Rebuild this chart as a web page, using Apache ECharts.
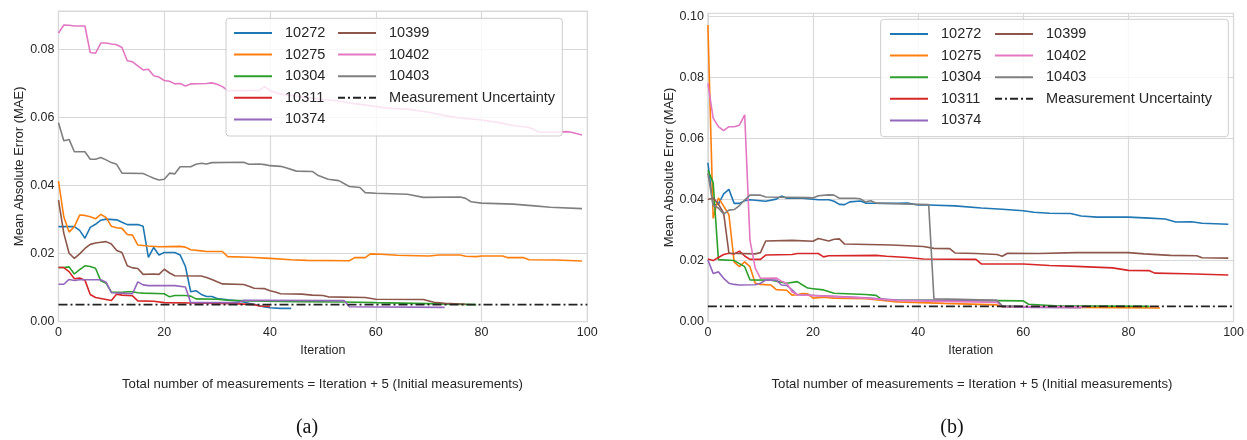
<!DOCTYPE html>
<html>
<head>
<meta charset="utf-8">
<script src="https://cdn.jsdelivr.net/npm/echarts@6/dist/echarts.min.js"></script>
<style>
  html, body { margin: 0; padding: 0; background: #fff; }
  #chart { width: 1247px; height: 440px; }
</style>
</head>
<body>
<div id="chart"></div>
<script>
// 两个面板：(a) / (b)，每条曲线按 [迭代次数, MAE] 记录拐点
const seriesNames = ['10272', '10275', '10304', '10311', '10374', '10399', '10402', '10403'];
const uncertaintyName = 'Measurement Uncertainty';
const uncertainty = 0.005;

const xTicks = [0, 20, 40, 60, 80, 100];
const yTicksA = [0, 0.02, 0.04, 0.06, 0.08];
const yTicksB = [0, 0.02, 0.04, 0.06, 0.08, 0.10];
const yMaxA = 0.0912;
const yMaxB = 0.1009;

const captionText = 'Total number of measurements = Iteration + 5 (Initial measurements)';
const panelLabels = ['(a)', '(b)'];

// ---- panel (a)
const a10272 = [[0,0.0279],[3,0.0279],[4,0.0268],[5,0.0245],[6,0.0277],[7,0.0286],[8,0.0298],[9,0.0301],[11,0.0299],[12,0.0292],[13,0.0285],[15,0.0285],[16,0.0280],[17,0.0189],[18,0.0218],[19,0.0196],[20,0.0203],[22,0.0203],[23,0.0196],[24,0.0162],[25,0.0088],[26,0.0091],[27,0.0080],[28,0.0074],[29,0.0074],[30,0.0068],[32,0.0064],[34,0.0061],[35,0.0058],[36,0.0054],[37,0.0051],[38,0.0047],[39,0.0043],[40,0.0041],[42,0.0039],[44,0.0039]];
const a10275 = [[0,0.0413],[1,0.0308],[2,0.0263],[3,0.0279],[4,0.0313],[5,0.0312],[6,0.0308],[7,0.0302],[8,0.0315],[9,0.0306],[10,0.0280],[11,0.0276],[12,0.0274],[13,0.0256],[14,0.0254],[15,0.0225],[17,0.0222],[19,0.0220],[23,0.0221],[24,0.0219],[25,0.0211],[27,0.0208],[28,0.0206],[31,0.0206],[32,0.0191],[36,0.0189],[40,0.0186],[44,0.0182],[47,0.0180],[55,0.0179],[56,0.0188],[58,0.0188],[59,0.0199],[61,0.0198],[64,0.0195],[70,0.0193],[72,0.0196],[76,0.0196],[77,0.0192],[79,0.0191],[80,0.0193],[84,0.0193],[85,0.0188],[88,0.0188],[89,0.0182],[94,0.0181],[99,0.0178]];
const a10304 = [[0,0.0159],[1,0.0159],[2,0.0161],[3,0.0140],[4,0.0153],[5,0.0164],[6,0.0162],[7,0.0157],[8,0.0120],[9,0.0113],[10,0.0087],[12,0.0086],[13,0.0088],[14,0.0088],[15,0.0085],[16,0.0084],[20,0.0082],[21,0.0073],[22,0.0077],[24,0.0077],[25,0.0075],[26,0.0067],[30,0.0066],[32,0.0063],[36,0.0061],[45,0.0059],[54,0.0058],[60,0.0056],[70,0.0053],[79,0.0050]];
const a10311 = [[0,0.0159],[1,0.0159],[2,0.0147],[3,0.0126],[4,0.0128],[5,0.0122],[6,0.0080],[7,0.0071],[8,0.0068],[9,0.0065],[10,0.0062],[11,0.0081],[12,0.0078],[14,0.0076],[15,0.0061],[18,0.0060],[20,0.0056],[25,0.0055],[33,0.0053],[37,0.0050],[38,0.0046],[40,0.0045]];
const a10374 = [[0,0.0110],[1,0.0110],[2,0.0124],[3,0.0121],[4,0.0123],[8,0.0123],[9,0.0116],[10,0.0085],[12,0.0084],[14,0.0082],[15,0.0117],[16,0.0108],[17,0.0106],[22,0.0106],[24,0.0102],[25,0.0056],[34,0.0056],[35,0.0063],[54,0.0062],[55,0.0044],[73,0.0042]];
const a10399 = [[0,0.0357],[1,0.0260],[2,0.0201],[3,0.0186],[4,0.0199],[5,0.0215],[6,0.0227],[7,0.0231],[8,0.0233],[9,0.0235],[10,0.0228],[11,0.0209],[12,0.0203],[13,0.0164],[14,0.0158],[15,0.0156],[16,0.0139],[18,0.0140],[19,0.0139],[20,0.0154],[21,0.0143],[22,0.0135],[27,0.0134],[28,0.0130],[29,0.0124],[30,0.0117],[31,0.0111],[35,0.0109],[36,0.0104],[37,0.0098],[39,0.0097],[40,0.0091],[41,0.0087],[42,0.0082],[46,0.0081],[48,0.0078],[50,0.0077],[51,0.0073],[58,0.0071],[60,0.0066],[69,0.0065],[71,0.0057],[73,0.0054],[77,0.0051]];
const a10402 = [[0,0.0847],[1,0.0871],[2,0.0870],[3,0.0868],[5,0.0868],[6,0.0790],[7,0.0788],[8,0.0818],[9,0.0818],[10,0.0815],[11,0.0813],[12,0.0805],[13,0.0766],[14,0.0763],[15,0.0751],[16,0.0739],[17,0.0741],[18,0.0722],[19,0.0718],[20,0.0708],[21,0.0706],[22,0.0698],[23,0.0699],[24,0.0692],[25,0.0698],[28,0.0699],[29,0.0701],[30,0.0697],[31,0.0690],[32,0.0678],[38,0.0679],[39,0.0690],[40,0.0678],[42,0.0668],[46,0.0660],[50,0.0652],[53,0.0648],[56,0.0640],[60,0.0632],[62,0.0627],[66,0.0624],[70,0.0615],[73,0.0605],[76,0.0598],[80,0.0592],[83,0.0585],[86,0.0576],[89,0.0570],[91,0.0556],[94,0.0556],[96,0.0558],[97,0.0556],[99,0.0548]];
const a10403 = [[0,0.0584],[1,0.0531],[2,0.0535],[3,0.0499],[5,0.0499],[6,0.0477],[7,0.0477],[8,0.0482],[9,0.0475],[10,0.0467],[11,0.0462],[12,0.0436],[16,0.0435],[17,0.0428],[18,0.0421],[19,0.0416],[20,0.0418],[21,0.0436],[22,0.0434],[23,0.0455],[25,0.0455],[26,0.0462],[27,0.0465],[28,0.0463],[29,0.0467],[35,0.0468],[36,0.0462],[38,0.0463],[39,0.0461],[40,0.0458],[42,0.0456],[43,0.0452],[45,0.0442],[48,0.0441],[49,0.0430],[51,0.0418],[53,0.0414],[55,0.0397],[57,0.0394],[58,0.0379],[60,0.0377],[66,0.0374],[69,0.0365],[76,0.0366],[77,0.0362],[78,0.0352],[80,0.0348],[86,0.0345],[90,0.0340],[93,0.0336],[99,0.0332]];

// ---- panel (b)
const b10272 = [[0,0.0520],[1,0.0380],[2,0.0385],[3,0.0418],[4,0.0433],[5,0.0387],[6,0.0387],[7,0.0396],[8,0.0399],[11,0.0394],[13,0.0401],[14,0.0411],[15,0.0404],[17,0.0405],[18,0.0404],[21,0.0399],[23,0.0399],[24,0.0394],[25,0.0384],[26,0.0383],[27,0.0392],[29,0.0395],[30,0.0388],[36,0.0387],[38,0.0388],[40,0.0382],[42,0.0382],[47,0.0379],[52,0.0372],[56,0.0368],[60,0.0363],[62,0.0358],[65,0.0355],[69,0.0354],[71,0.0346],[74,0.0342],[80,0.0342],[84,0.0339],[87,0.0336],[89,0.0326],[92,0.0327],[94,0.0322],[99,0.0319]];
const b10275 = [[0,0.0971],[1,0.0338],[2,0.0405],[3,0.0378],[4,0.0350],[5,0.0195],[6,0.0180],[7,0.0196],[8,0.0180],[9,0.0126],[10,0.0122],[12,0.0120],[13,0.0105],[15,0.0103],[16,0.0087],[17,0.0088],[18,0.0092],[19,0.0091],[20,0.0077],[22,0.0080],[24,0.0077],[30,0.0075],[36,0.0065],[45,0.0060],[55,0.0055],[56,0.0049],[70,0.0047],[86,0.0045]];
const b10304 = [[0,0.0495],[1,0.0455],[2,0.0203],[5,0.0200],[6,0.0190],[7,0.0180],[8,0.0137],[12,0.0136],[15,0.0126],[17,0.0131],[18,0.0120],[19,0.0110],[20,0.0108],[22,0.0104],[24,0.0093],[30,0.0089],[32,0.0086],[33,0.0074],[34,0.0071],[55,0.0069],[60,0.0068],[61,0.0057],[66,0.0052],[84,0.0050]];
const b10311 = [[0,0.0205],[1,0.0200],[2,0.0210],[3,0.0220],[4,0.0224],[5,0.0222],[6,0.0231],[7,0.0215],[8,0.0204],[10,0.0204],[11,0.0218],[16,0.0220],[17,0.0223],[21,0.0223],[22,0.0212],[23,0.0216],[32,0.0217],[34,0.0214],[38,0.0210],[41,0.0205],[51,0.0204],[52,0.0189],[60,0.0189],[65,0.0184],[70,0.0181],[77,0.0176],[80,0.0168],[84,0.0167],[85,0.0159],[91,0.0157],[99,0.0153]];
const b10374 = [[0,0.0202],[1,0.0158],[2,0.0163],[3,0.0142],[4,0.0126],[5,0.0122],[6,0.0120],[9,0.0121],[10,0.0126],[11,0.0136],[13,0.0136],[14,0.0120],[15,0.0119],[16,0.0104],[17,0.0088],[24,0.0083],[30,0.0078],[36,0.0071],[55,0.0069],[56,0.0049],[62,0.0047],[71,0.0046]];
const b10399 = [[0,0.0400],[1,0.0405],[2,0.0385],[3,0.0355],[4,0.0224],[9,0.0222],[10,0.0226],[11,0.0264],[16,0.0266],[20,0.0263],[21,0.0272],[22,0.0268],[23,0.0264],[24,0.0270],[25,0.0271],[26,0.0254],[35,0.0251],[41,0.0246],[43,0.0240],[46,0.0239],[47,0.0225],[51,0.0223],[55,0.0220],[56,0.0214],[57,0.0224],[63,0.0223],[70,0.0226],[80,0.0226],[83,0.0222],[88,0.0217],[93,0.0216],[94,0.0209],[99,0.0208]];
const b10402 = [[0,0.0780],[1,0.0666],[2,0.0638],[3,0.0625],[4,0.0638],[5,0.0638],[6,0.0643],[7,0.0677],[8,0.0267],[9,0.0175],[10,0.0142],[13,0.0143],[14,0.0132],[15,0.0126],[16,0.0098],[17,0.0088],[24,0.0082],[30,0.0077],[36,0.0069],[50,0.0065],[55,0.0063],[56,0.0050],[72,0.0048]];
const b10403 = [[0,0.0486],[1,0.0380],[2,0.0372],[3,0.0352],[4,0.0365],[5,0.0367],[6,0.0380],[7,0.0398],[8,0.0414],[10,0.0414],[11,0.0408],[19,0.0406],[20,0.0405],[21,0.0412],[23,0.0415],[24,0.0414],[25,0.0404],[28,0.0404],[29,0.0402],[30,0.0392],[31,0.0396],[32,0.0388],[36,0.0386],[40,0.0384],[42,0.0383],[43,0.0075],[48,0.0073],[55,0.0070],[56,0.0052],[60,0.0050]];

const panelA = [a10272, a10275, a10304, a10311, a10374, a10399, a10402, a10403];
const panelB = [b10272, b10275, b10304, b10311, b10374, b10399, b10402, b10403];

const palette = ['#1f77b4', '#ff7f0e', '#2ca02c', '#d62728', '#9467bd', '#8c564b', '#e377c2', '#7f7f7f'];
const FONT = '"Liberation Sans", Arial, Helvetica, sans-serif';
const TXT = '#262626';
const GRIDC = '#d9d9d9';

// 图例图标：实线和点划线（宽高比 38:2）
const solidIcon = 'path://M0,0 L38,0 L38,2 L0,2 Z';
const dashDotIcon = 'path://M0,0h7v2h-7z M10,0h2v2h-2z M15,0h8v2h-8z M26,0h2v2h-2z M31,0h7v2h-7z';

const chart = echarts.init(document.getElementById('chart'), null, { renderer: 'canvas' });

const grids = [
  { left: 58.5, top: 11, width: 528.8, height: 310.7 },
  { left: 707.9, top: 13.3, width: 528.5, height: 308.4 },
];

function makeXAxis(gi) {
  return {
    type: 'value', gridIndex: gi,
    min: xTicks[0], max: xTicks[xTicks.length - 1], interval: xTicks[1] - xTicks[0],
    name: 'Iteration', nameLocation: 'middle', nameGap: 18,
    nameTextStyle: { color: TXT, fontSize: 12.5, fontFamily: FONT },
    axisLine: { show: false }, axisTick: { show: false },
    axisLabel: { color: TXT, fontSize: 12.5, fontFamily: FONT, margin: 4 },
    splitLine: { show: true, lineStyle: { color: GRIDC, width: 1.2 } },
  };
}

function makeYAxis(gi, ticks, yMax) {
  return {
    type: 'value', gridIndex: gi,
    min: ticks[0], max: yMax, interval: ticks[1] - ticks[0],
    name: 'Mean Absolute Error (MAE)', nameLocation: 'middle', nameGap: 32,
    nameTextStyle: { color: TXT, fontSize: 13, fontFamily: FONT },
    axisLine: { show: false }, axisTick: { show: false },
    axisLabel: {
      color: TXT, fontSize: 12.5, fontFamily: FONT, margin: 4, showMaxLabel: false,
      formatter: v => v.toFixed(2),
    },
    splitLine: { show: true, lineStyle: { color: GRIDC, width: 1.2 } },
  };
}

const series = [];
[panelA, panelB].forEach((panel, gi) => {
  panel.forEach((data, i) => {
    series.push({
      name: seriesNames[i], type: 'line', xAxisIndex: gi, yAxisIndex: gi,
      data, showSymbol: false, symbol: 'none', smooth: false,
      lineStyle: { color: palette[i], width: 1.6 },
      itemStyle: { color: palette[i] },
      emphasis: { disabled: true },
    });
  });
  series.push({
    name: uncertaintyName, type: 'line', xAxisIndex: gi, yAxisIndex: gi,
    data: [[xTicks[0], uncertainty], [xTicks[xTicks.length - 1], uncertainty]],
    showSymbol: false, symbol: 'none',
    lineStyle: { color: '#222222', width: 1.6, type: [9, 3, 2, 3] },
    itemStyle: { color: '#222222' },
    emphasis: { disabled: true },
  });
});

// 图例：两列，外框另画
function legendCol(names, left, top) {
  return {
    data: names.map(n => ({ name: n, icon: n === uncertaintyName ? dashDotIcon : solidIcon })),
    orient: 'vertical', left, top, padding: 0, z: 20,
    itemWidth: 38, itemHeight: 2, itemGap: 5.6,
    itemStyle: { borderWidth: 0 },
    formatter: n => '  ' + n,
    textStyle: { color: TXT, fontSize: 14.5, fontFamily: FONT, lineHeight: 16 },
    selectedMode: false,
  };
}

const col1 = seriesNames.slice(0, 5);
const col2 = seriesNames.slice(5).concat([uncertaintyName]);

chart.setOption({
  animation: false,
  backgroundColor: '#ffffff',
  grid: grids.map(g => Object.assign({ show: true, borderColor: GRIDC, borderWidth: 1.2, backgroundColor: 'transparent' }, g)),
  xAxis: [makeXAxis(0), makeXAxis(1)],
  yAxis: [makeYAxis(0, yTicksA, yMaxA), makeYAxis(1, yTicksB, yMaxB)],
  legend: [
    legendCol(col1, 234, 25),
    legendCol(col2, 338, 25),
    legendCol(col1, 890, 26),
    legendCol(col2, 995, 26),
  ],
  graphic: {
    elements: [
      { type: 'rect', z: 10, zlevel: 0, shape: { x: 226, y: 18.3, width: 336.3, height: 117.7, r: 3 },
        style: { fill: 'rgba(255,255,255,0.8)', stroke: '#cccccc', lineWidth: 1 } },
      { type: 'rect', z: 10, zlevel: 0, shape: { x: 880.7, y: 19.3, width: 347.6, height: 117.4, r: 3 },
        style: { fill: 'rgba(255,255,255,0.8)', stroke: '#cccccc', lineWidth: 1 } },
      { type: 'text', x: 322.5, y: 384, style: { text: captionText, align: 'center', verticalAlign: 'middle', fill: TXT, fontSize: 13.2, fontFamily: FONT } },
      { type: 'text', x: 972, y: 384, style: { text: captionText, align: 'center', verticalAlign: 'middle', fill: TXT, fontSize: 13.2, fontFamily: FONT } },
      { type: 'text', x: 307, y: 428, style: { text: panelLabels[0], align: 'center', verticalAlign: 'middle', fill: '#111', fontSize: 20, fontFamily: '"Liberation Serif", "DejaVu Serif", serif' } },
      { type: 'text', x: 952, y: 428, style: { text: panelLabels[1], align: 'center', verticalAlign: 'middle', fill: '#111', fontSize: 20, fontFamily: '"Liberation Serif", "DejaVu Serif", serif' } },
    ],
  },
  series,
});
</script>
</body>
</html>
